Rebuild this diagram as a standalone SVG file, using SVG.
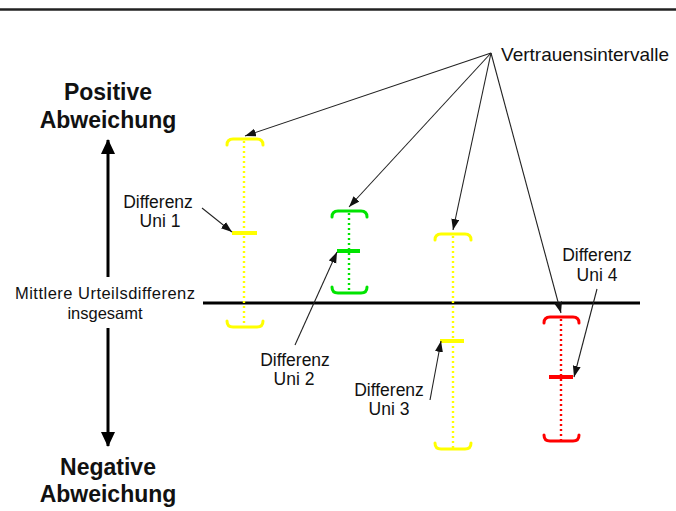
<svg xmlns="http://www.w3.org/2000/svg" width="676" height="511" viewBox="0 0 676 511">
<style>
  text { font-family: "Liberation Sans", Arial, sans-serif; fill: #111; }
  .big { font-size: 23px; font-weight: bold; text-anchor: middle; }
  .lbl { font-size: 17.5px; text-anchor: middle; }
  .thin { stroke: #222; stroke-width: 1.1; fill: none; marker-end: url(#ah); }
  .dot { stroke-width: 2.4; stroke-dasharray: 2 3; fill: none; }
  .br { stroke-width: 3; fill: none; stroke-linecap: round; }
  .mean { stroke-width: 4; }
  .y { stroke: #ffff00; }
  .g { stroke: #00e400; }
  .r { stroke: #ff0000; }
</style>
<defs>
  <marker id="ah" markerUnits="userSpaceOnUse" markerWidth="12" markerHeight="10" refX="11" refY="4" orient="auto">
    <path d="M0,0 L11,4 L0,8 Z" fill="#111"/>
  </marker>
  <marker id="bigah" markerUnits="userSpaceOnUse" markerWidth="16" markerHeight="16" refX="14" refY="7" orient="auto">
    <path d="M0,0 L15,7 L0,14 Z" fill="#000"/>
  </marker>
</defs>
<rect width="676" height="511" fill="#fff"/>
<line x1="0" y1="9.5" x2="676" y2="9.5" stroke="#222" stroke-width="2.5"/>

<g id="axis">
  <line x1="108" y1="277" x2="108" y2="140" stroke="#000" stroke-width="3" marker-end="url(#bigah)"/>
  <line x1="108" y1="328" x2="108" y2="446" stroke="#000" stroke-width="3" marker-end="url(#bigah)"/>
  <text class="big" x="108" y="100">Positive</text>
  <text class="big" x="108" y="128">Abweichung</text>
  <text class="big" x="108" y="475">Negative</text>
  <text class="big" x="108" y="502">Abweichung</text>
</g>

<g id="mean-line">
  <line x1="203" y1="303" x2="640" y2="303" stroke="#000" stroke-width="3"/>
  <text class="lbl" x="105" y="299" style="font-size:16.5px" textLength="180">Mittlere Urteilsdifferenz</text>
  <text class="lbl" x="105" y="319" style="font-size:16.5px">insgesamt</text>
</g>

<g id="interval1">
  <line class="dot y" x1="244" y1="141" x2="244" y2="326"/>
  <path class="br y" d="M227,145 Q227,139 233,139 H257 Q263,139 263,145"/>
  <path class="br y" d="M227,321 Q227,327 233,327 H257 Q263,327 263,321"/>
  <line class="mean y" x1="232" y1="233" x2="257" y2="233"/>
</g>

<g id="interval2">
  <line class="dot g" x1="349" y1="213" x2="349" y2="292"/>
  <path class="br g" d="M332,217 Q332,211 338,211 H361 Q367,211 367,217"/>
  <path class="br g" d="M332,287 Q332,293 338,293 H361 Q367,293 367,287"/>
  <line class="mean g" x1="337" y1="251" x2="360" y2="251"/>
</g>

<g id="interval3">
  <line class="dot y" x1="453" y1="236" x2="453" y2="448"/>
  <path class="br y" d="M435,240 Q435,234 441,234 H465 Q471,234 471,240"/>
  <path class="br y" d="M435,443 Q435,449 441,449 H465 Q471,449 471,443"/>
  <line class="mean y" x1="440" y1="341" x2="464" y2="341"/>
</g>

<g id="interval4">
  <line class="dot r" x1="561" y1="319" x2="561" y2="440"/>
  <path class="br r" d="M544,323 Q544,317 550,317 H573 Q579,317 579,323"/>
  <path class="br r" d="M544,435 Q544,441 550,441 H573 Q579,441 579,435"/>
  <line class="mean r" x1="549" y1="377" x2="573" y2="377"/>
</g>

<g id="labels">
  <text class="lbl" x="585" y="61" style="font-size:19px">Vertrauensintervalle</text>
  <text class="lbl" x="158" y="208">Differenz</text>
  <text class="lbl" x="160" y="227">Uni 1</text>
  <text class="lbl" x="295" y="366">Differenz</text>
  <text class="lbl" x="294" y="385">Uni 2</text>
  <text class="lbl" x="389" y="396">Differenz</text>
  <text class="lbl" x="389" y="415">Uni 3</text>
  <text class="lbl" x="597" y="261">Differenz</text>
  <text class="lbl" x="597" y="281">Uni 4</text>
</g>

<g id="connectors">
  <line class="thin" x1="491" y1="53" x2="245" y2="136"/>
  <line class="thin" x1="491" y1="53" x2="349" y2="207"/>
  <line class="thin" x1="491" y1="53" x2="453" y2="230"/>
  <line class="thin" x1="491" y1="53" x2="561" y2="313"/>
  <line class="thin" x1="202" y1="208" x2="232" y2="232"/>
  <line class="thin" x1="295" y1="345" x2="337" y2="252"/>
  <line class="thin" x1="430" y1="400" x2="441" y2="341"/>
  <line class="thin" x1="597" y1="289" x2="574" y2="377"/>
</g>
</svg>
